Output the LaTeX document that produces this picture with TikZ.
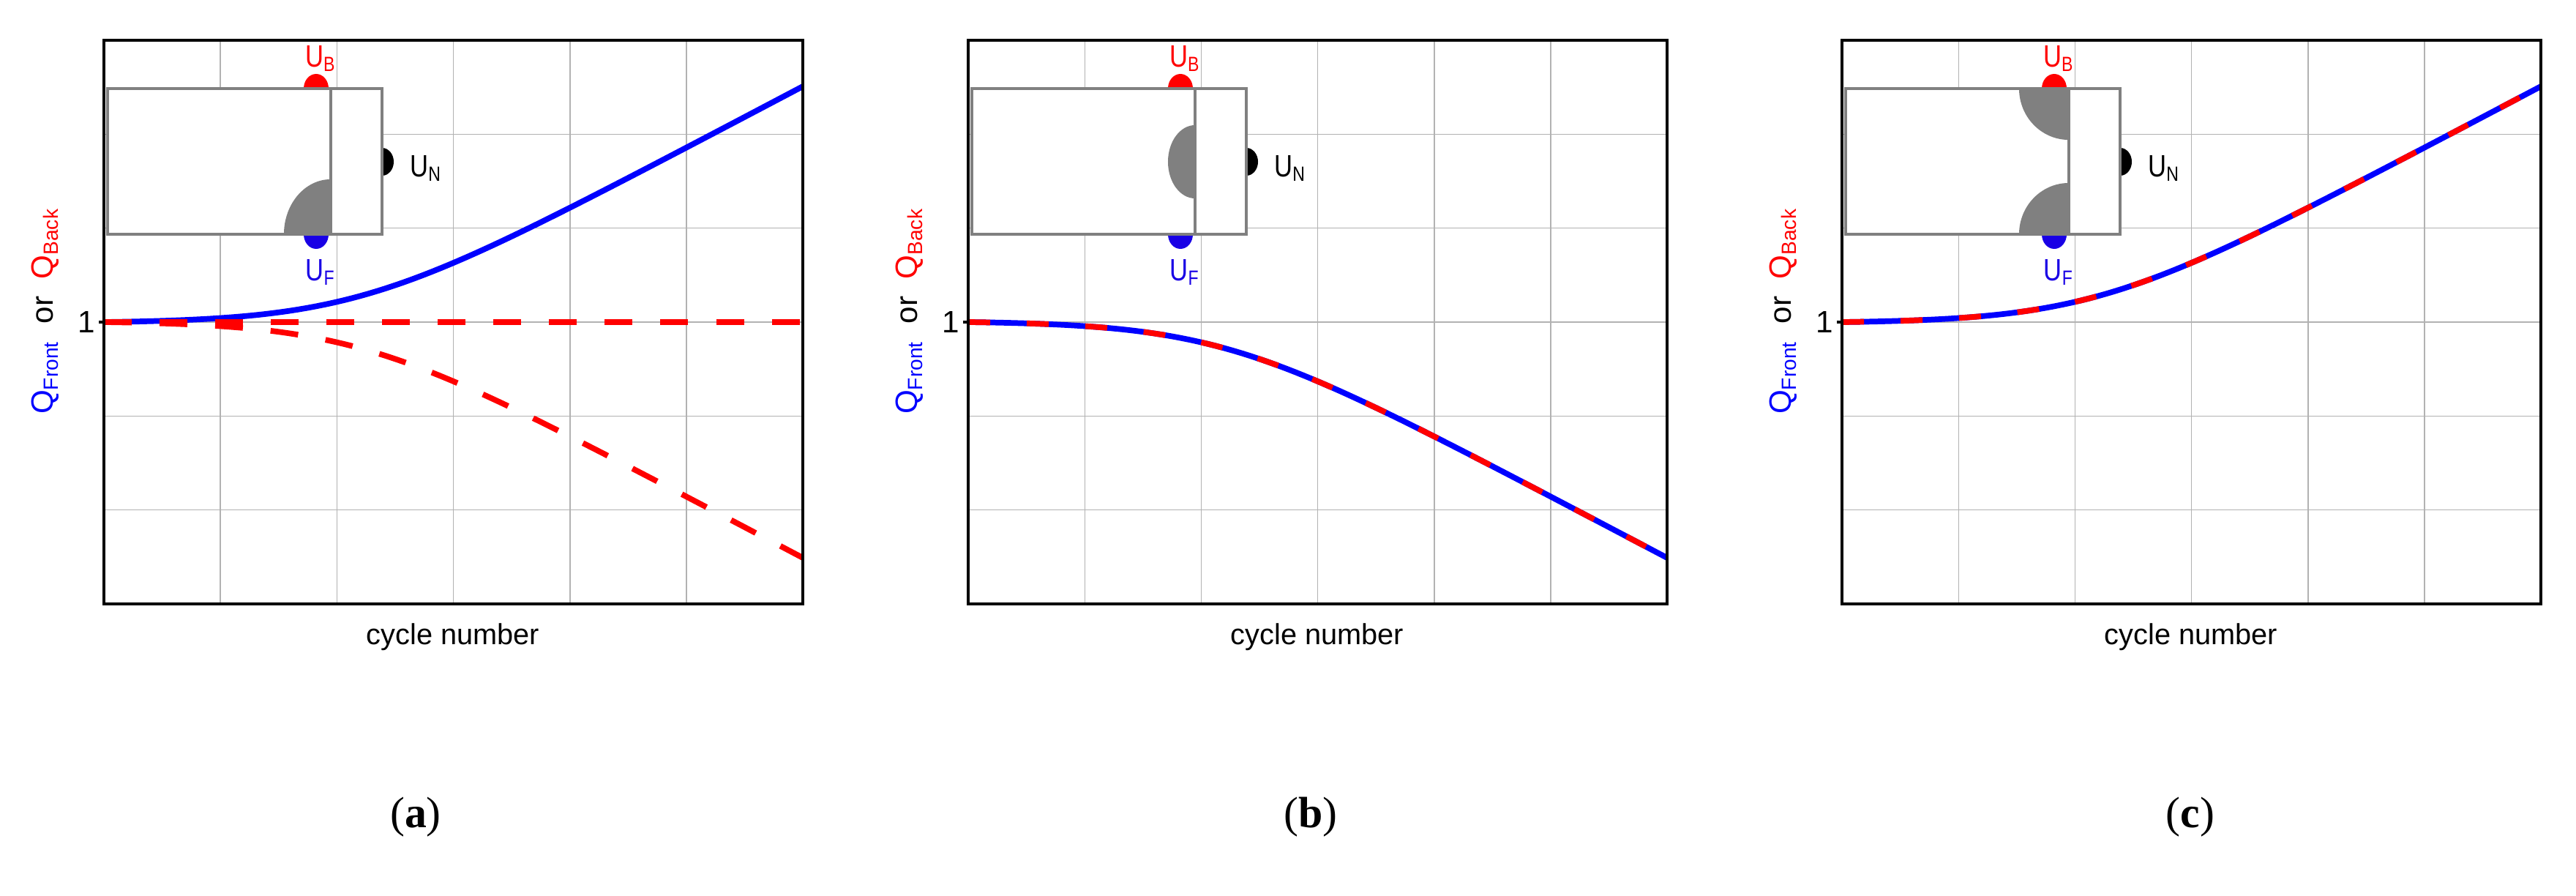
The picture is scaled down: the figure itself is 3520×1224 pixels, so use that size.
\documentclass[tikz,border=0pt]{standalone}
\usepackage{fontspec}
\setmainfont{Liberation Sans}
\newfontfamily\serifff{Liberation Serif}
\begin{document}
\begin{tikzpicture}[x=0.01cm,y=-0.01cm]
\tikzset{
 gridl/.style={gray!60,line width=0.4pt},
 framel/.style={black,line width=1.1pt},
 bluel/.style={blue,line width=2.2pt},
 redd/.style={red,line width=2.2pt,dash pattern=on 0.38cm off 0.38cm},
 redd2/.style={red,line width=2.2pt,dash pattern=on 0.3cm off 0.5cm},
 ulab/.style={font=\fontsize{12}{13}\selectfont,xscale=0.82,inner sep=0},
 boxl/.style={draw=gray,line width=1.3pt,fill=white},
}
\useasboundingbox (0,0) rectangle (3520,1224);
\newcommand\drawpanel[3]{%
 \begin{scope}[shift={(#1,0)}]
  \foreach \i in {1,...,5} {\draw[gridl] (\i*159.2,55) -- (\i*159.2,825);}
  \foreach \j in {1,...,5} {\draw[gridl] (0,55+\j*128.33) -- (955,55+\j*128.33);}
  \draw[framel] (-7,440) -- (0,440);
  \node[anchor=east,font=\fontsize{12}{13}\selectfont,inner sep=1pt] (one#2) at (-8,440) {1};
  \node[rotate=90,font=\fontsize{12}{13}\selectfont] (yl#2) at (-80,425) {\textcolor{blue}{Q\textsubscript{Front}} ~or~ \textcolor{red}{Q\textsubscript{Back}}};
  \node[font=\fontsize{11.3}{12}\selectfont] (xl#2) at (477,870) {cycle number};
  \fill[red] (290,121) ellipse [x radius=0.17cm,y radius=0.2cm];
  \fill[blue!80!violet] (290,320) ellipse [x radius=0.17cm,y radius=0.2cm];
  \fill[black] (380,221) ellipse [x radius=0.16cm,y radius=0.19cm];
  \draw[boxl] (5,121) rectangle (380,320);
  \node[ulab,red] (ub#2) at (296,80) {U\textsubscript{B}};
  \node[ulab,blue!80!violet] (uf#2) at (296,372) {U\textsubscript{F}};
  \node[ulab,black] (un#2) at (440,230) {U\textsubscript{N}};
 \end{scope}
 \node[font=\serifff\fontsize{17}{18}\selectfont] (lab#2) at (#3,1116) {(\textbf{#2})};
}
\drawpanel{142}{a}{568}
\drawpanel{1323}{b}{1791}
\drawpanel{2517}{c}{2993}
\begin{scope}
 \clip (147,121) rectangle (452,320);
 \fill[gray] (452,320) ellipse [x radius=0.64cm,y radius=0.75cm];
\end{scope}
\begin{scope}
 \clip (1328,121) rectangle (1633,320);
 \fill[gray] (1633,221) ellipse [x radius=0.37cm,y radius=0.5cm];
\end{scope}
\begin{scope}
 \clip (2522,121) rectangle (2827,320);
 \fill[gray] (2827,121) ellipse [x radius=0.68cm,y radius=0.7cm];
 \fill[gray] (2827,320) ellipse [x radius=0.68cm,y radius=0.7cm];
\end{scope}
\foreach \x in {142,1323,2517} {\draw[gray,line width=1.3pt] (\x+310,121) -- (\x+310,320);}
\begin{scope}
 \clip (142,55) rectangle (1097,825);
 \draw[bluel] plot[domain=0:6,samples=80,variable=\t] ({142+159.2*\t},{440-(50.4*ln(1+exp((\t-2.15)/0.6))-1.4)});
 \draw[redd] (142,440) -- (1097,440);
 \draw[redd] plot[domain=0:6,samples=80,variable=\t] ({142+159.2*\t},{440+(50.4*ln(1+exp((\t-2.15)/0.6))-1.4)});
\end{scope}
\begin{scope}
 \clip (1323,55) rectangle (2278,825);
 \draw[bluel] plot[domain=0:6,samples=80,variable=\t] ({1323+159.2*\t},{440+(50.4*ln(1+exp((\t-2.15)/0.6))-1.4)});
 \draw[redd2] plot[domain=0:6,samples=80,variable=\t] ({1323+159.2*\t},{440+(50.4*ln(1+exp((\t-2.15)/0.6))-1.4)});
\end{scope}
\begin{scope}
 \clip (2517,55) rectangle (3472,825);
 \draw[bluel] plot[domain=0:6,samples=80,variable=\t] ({2517+159.2*\t},{440-(50.4*ln(1+exp((\t-2.15)/0.6))-1.4)});
 \draw[redd2] plot[domain=0:6,samples=80,variable=\t] ({2517+159.2*\t},{440-(50.4*ln(1+exp((\t-2.15)/0.6))-1.4)});
\end{scope}
\foreach \x in {142,1323,2517} {\draw[framel] (\x,55) rectangle (\x+955,825);}
\end{tikzpicture}
\end{document}
